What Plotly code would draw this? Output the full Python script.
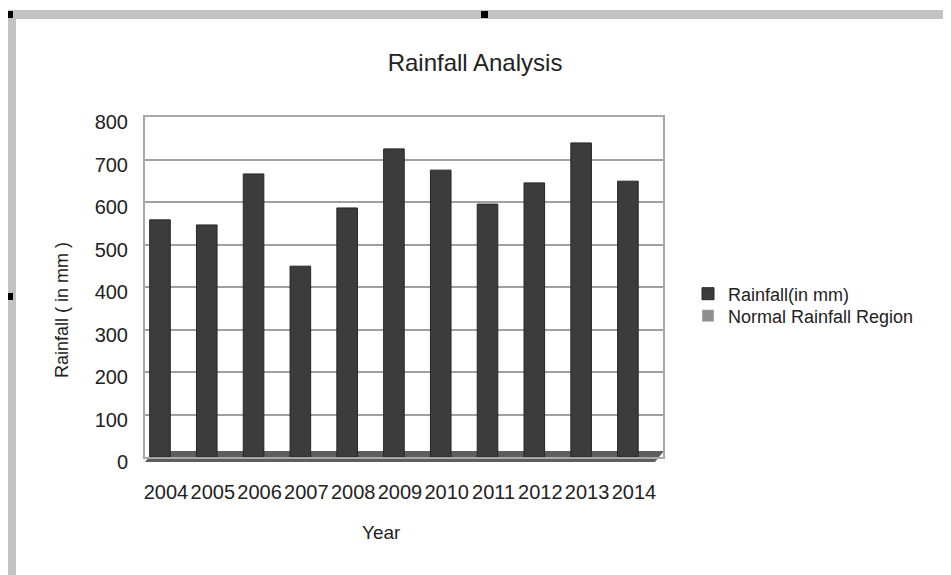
import plotly.graph_objects as go

# Daten
jahre = ["2004", "2005", "2006", "2007", "2008", "2009",
         "2010", "2011", "2012", "2013", "2014"]
niederschlag = [558, 546, 666, 449, 586, 725, 675, 595, 645, 739, 649]
normal_bereich = [None] * len(jahre)
y_ticks = [0, 100, 200, 300, 400, 500, 600, 700, 800]

W, H = 951, 575
OFF = 8  # Seitenrand des Browsers
FONT = "Liberation Sans, Arial, sans-serif"


def px(x):
    return (x - OFF) / W


def py(y):
    return 1 - (y - OFF) / H


fig = go.Figure()
fig.add_trace(
    go.Bar(
        x=jahre,
        y=niederschlag,
        name="Rainfall(in mm)",
        marker_color="#3c3c3c",
        marker_line_color="#262626",
        marker_line_width=1,
        legend="legend",
    )
)
fig.add_trace(
    go.Bar(
        x=jahre,
        y=normal_bereich,
        name="Normal Rainfall Region",
        marker_color="#8e8e8e",
        legend="legend2",
    )
)

shapes = [
    # Rahmen oben und links (Excel-Auswahl)
    dict(type="rect", xref="paper", yref="paper", x0=px(8), x1=1, y0=py(19), y1=py(10),
         fillcolor="#c3c3c3", line_width=0),
    dict(type="rect", xref="paper", yref="paper", x0=px(8), x1=px(16), y0=0, y1=py(10),
         fillcolor="#c3c3c3", line_width=0),
    dict(type="rect", xref="paper", yref="paper", x0=px(6), x1=px(13), y0=py(18), y1=py(11),
         fillcolor="black", line_width=0),
    dict(type="rect", xref="paper", yref="paper", x0=px(481), x1=px(488), y0=py(18), y1=py(11),
         fillcolor="black", line_width=0),
    dict(type="rect", xref="paper", yref="paper", x0=px(6), x1=px(13), y0=py(300), y1=py(293),
         fillcolor="black", line_width=0),
    # Boden des 3D-Diagramms
    dict(type="path", xref="paper", yref="paper", layer="below",
         path=f"M {px(145)},{py(462)} L {px(655)},{py(462)} L {px(664)},{py(451)} "
              f"L {px(154)},{py(451)} Z",
         fillcolor="#5e5e5e", line_width=0),
]

annotations = [
    dict(text="Rainfall ( in mm )", xref="paper", yref="paper", x=px(62), y=py(310),
         showarrow=False, textangle=-90, font=dict(size=18, color="#222222"),
         xanchor="center", yanchor="middle"),
    dict(text="Year", xref="paper", yref="paper", x=px(381), y=py(532),
         showarrow=False, font=dict(size=19, color="#222222"),
         xanchor="center", yanchor="middle"),
]

fig.update_layout(
    width=W,
    height=H,
    margin=dict(l=0, r=0, t=0, b=0),
    paper_bgcolor="white",
    plot_bgcolor="white",
    font=dict(family=FONT, color="#222222"),
    title=dict(text="Rainfall Analysis", x=px(475), xanchor="center", y=py(63),
               yanchor="middle", font=dict(size=24, color="#222222")),
    bargap=0.56,
    barmode="overlay",
    showlegend=True,
    legend=dict(x=px(688), y=py(294), xanchor="left", yanchor="middle",
                font=dict(size=18, color="#222222"), bgcolor="rgba(0,0,0,0)"),
    legend2=dict(x=px(688), y=py(316), xanchor="left", yanchor="middle",
                 font=dict(size=18, color="#222222"), bgcolor="rgba(0,0,0,0)"),
    shapes=shapes,
    annotations=annotations,
    xaxis=dict(
        domain=[px(145), px(663)],
        range=[-0.32, 10.75],
        automargin=False,
        showgrid=False,
        showline=True, linecolor="#a8a8a8", linewidth=2, mirror=True,
        tickfont=dict(size=20),
        ticklabelshift=6,
        ticklabelstandoff=16,
    ),
    yaxis=dict(
        domain=[py(457), py(117)],
        range=[0, 800],
        automargin=False,
        tickvals=y_ticks,
        showgrid=True, gridcolor="#a0a0a0", gridwidth=2,
        showline=True, linecolor="#a8a8a8", linewidth=2, mirror=True,
        zeroline=False,
        tickfont=dict(size=20),
        ticklabelshift=5,
        ticklabelstandoff=11,
    ),
)

fig.write_html("out.html")
